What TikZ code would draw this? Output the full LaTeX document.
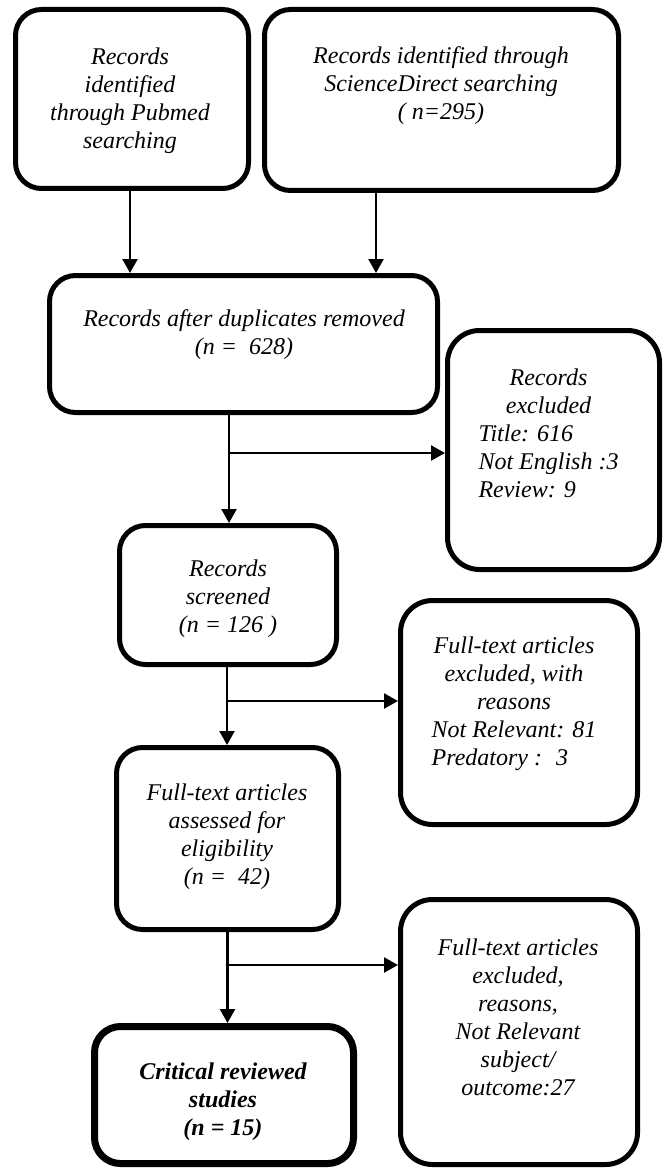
\documentclass[tikz,border=0pt]{standalone}
\usepackage{fontspec}
\setmainfont{Liberation Serif}
\usetikzlibrary{arrows.meta,calc}
\newcommand\ctab[1]{\begin{tabular}{@{}c@{}}#1\end{tabular}}
\newcommand\ltab[1]{\begin{tabular}{@{}l@{}}#1\end{tabular}}
\newcommand\cl[1]{\multicolumn{1}{@{}c@{}}{#1}}
\begin{document}
\begin{tikzpicture}[x=1pt,y=-1pt,
  box/.style={draw, line width=5pt, rounded corners=26pt, inner sep=0pt},
  bigbox/.style={box, rounded corners=32pt},
  finalbox/.style={box, line width=7pt},
  txt/.style={inner sep=0pt, font=\fontsize{24}{28}\selectfont\itshape},
  conn/.style={line width=2.3pt, -{Triangle[length=14pt,width=15pt]}}]
\useasboundingbox (0,0) rectangle (664,1169);

% boxes
\node[box, minimum width=233pt, minimum height=179pt] (pub) at (132,99) {};
\node[box, minimum width=354pt, minimum height=181pt] (sd) at (441.5,100) {};
\node[box, minimum width=388pt, minimum height=137pt] (dup) at (243.5,344) {};
\node[bigbox, minimum width=212pt, minimum height=239pt] (excl) at (553.5,450) {};
\node[box, minimum width=217pt, minimum height=139pt] (scr) at (228,595) {};
\node[bigbox, minimum width=237pt, minimum height=224pt] (ft1) at (519,712.5) {};
\node[box, minimum width=222pt, minimum height=182pt] (ass) at (227.5,838.5) {};
\node[bigbox, minimum width=237pt, minimum height=265pt] (ft2) at (519,1032) {};
\node[finalbox, minimum width=259pt, minimum height=137pt] (crit) at (224,1095) {};

% texts
\node[txt] (pubt) at (130,100.5) {\ctab{Records\\identified\\through Pubmed\\searching}};
\node[txt] (sdt) at (441,85.5) {\ctab{Records identified through\\ScienceDirect searching\\( n=295)}};
\node[txt] (dupt) at (244,335) {\ctab{Records after duplicates removed\\(n = \ 628)}};
\node[txt] (exclt) at (548.5,436) {\ltab{\cl{Records}\\\cl{excluded}\\Title: 616\\Not English :3\\Review: 9}};
\node[txt] (scrt) at (228,599) {\ctab{Records\\screened\\(n = 126 )}};
\node[txt] (ft1t) at (514,704) {\ltab{\cl{Full-text articles}\\\cl{excluded, with}\\\cl{reasons}\\Not Relevant: 81\\Predatory : \ 3}};
\node[txt] (asst) at (227,837) {\ctab{Full-text articles\\assessed for\\eligibility\\(n = \ 42)}};
\node[txt] (ft2t) at (518,1020) {\ctab{Full-text articles\\excluded,\\reasons,\\Not Relevant\\subject/\\outcome:27}};
\node[txt, font=\fontsize{24}{28}\selectfont\itshape\bfseries] (critt) at (223,1102) {\ctab{Critical reviewed\\studies\\(n = 15)}};

% connectors
\draw[conn] ([xshift=-2pt]pub.south) -- ([xshift=-2pt]pub.south |- dup.north);
\draw[conn] ([xshift=-65.5pt]sd.south) -- ([xshift=-65.5pt]sd.south |- dup.north);
\draw[conn] ([xshift=1pt]scr.north |- dup.south) -- ([xshift=1pt]scr.north);
\coordinate (b1) at (229,453);
\draw[conn] (b1) -- (b1 -| excl.west);
\draw[conn] ([xshift=-1pt]scr.south) -- ([xshift=-1pt]scr.south |- ass.north);
\coordinate (b2) at (227,701);
\draw[conn] (b2) -- (b2 -| ft1.west);
\draw[conn] (ass.south) -- (ass.south |- crit.north);
\coordinate (b3) at (227,965);
\draw[conn] (b3) -- (b3 -| ft2.west);
\end{tikzpicture}
\end{document}
